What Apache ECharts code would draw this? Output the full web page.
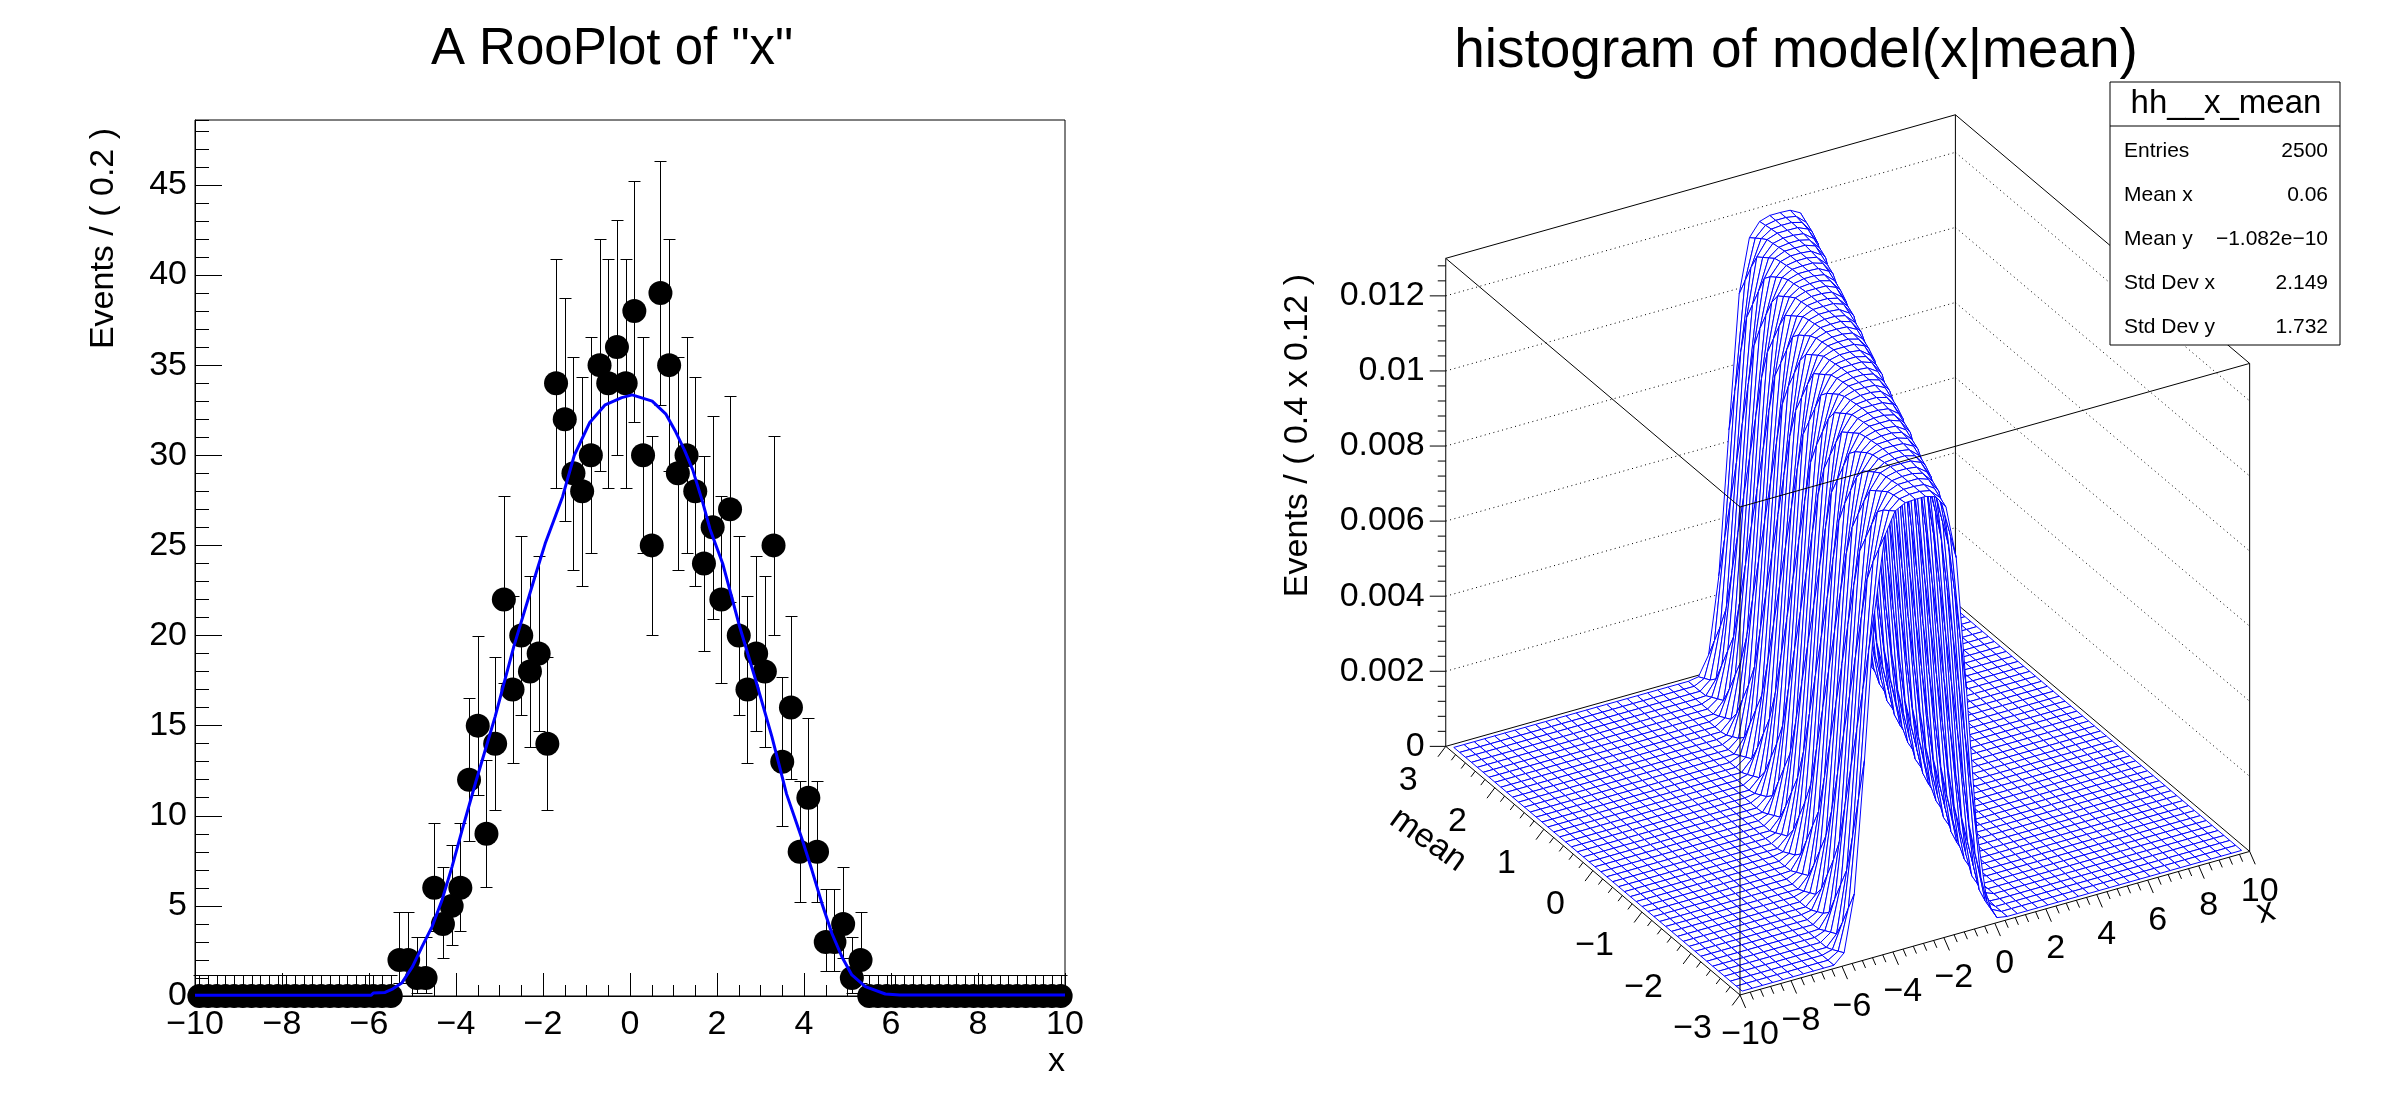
<!DOCTYPE html>
<html lang="en">
<head>
  <meta charset="UTF-8">
  <title>A RooPlot of "x" / histogram of model(x|mean)</title>
  <style>
    html, body { margin: 0; padding: 0; background: #fff; }
    #main { width: 2388px; height: 1116px; }
  </style>
</head>
<body>
  <div id="main"></div>
  <script src="https://cdn.jsdelivr.net/npm/echarts@6.0.0/dist/echarts.min.js"></script>
  <script>
    const FONT = '"Liberation Sans", Arial, Helvetica, sans-serif';

    // ---------- left pad: binned toy data, 100 bins of 0.2 on [-10, 10] ----------
    const X_MIN = -10, X_MAX = 10, BIN_WIDTH = 0.2;
    const eventCounts = [
      0, 0, 0, 0, 0, 0, 0, 0, 0, 0, 0, 0, 0, 0, 0, 0, 0, 0, 0, 0, 0, 0, 0,
      2, 2, 1, 1, 6, 4, 5, 6, 12, 15, 9, 14, 22, 17, 20, 18, 19, 14,
      34, 32, 29, 28, 30, 35, 34, 36, 34, 38, 30, 25, 39, 35, 29, 30, 28, 24, 26, 22,
      27, 20, 17, 19, 18, 25, 13, 16, 8, 11, 8, 3, 3, 4, 1, 2,
      0, 0, 0, 0, 0, 0, 0, 0, 0, 0, 0, 0, 0, 0, 0, 0, 0, 0, 0, 0, 0, 0, 0
    ];
    // fitted projection of the model
    const curveX = [-10, -5.95, -5.9, -5.63, -5.45, -5.24, -5.0, -4.78, -4.55, -4.32,
      -4.09, -3.86, -3.66, -3.53, -3.1, -2.67, -2.18, -1.95, -1.75, -1.55,
      -1.28, -0.93, -0.57, -0.19, 0.05, 0.51, 0.82, 1.05, 1.25, 1.44,
      1.67, 1.84, 2.13, 2.52, 2.88, 3.26, 3.6, 3.96, 4.18, 4.41,
      4.64, 4.87, 5.1, 5.41, 5.87, 6.2, 10];
    const curveY = [0.04, 0.04, 0.17, 0.2, 0.4, 0.74, 1.63, 2.74, 3.85, 5.33,
      7.18, 9.2, 10.9, 12.0, 15.5, 19.4, 23.3, 25.1, 26.4, 27.7,
      30.0, 31.8, 32.8, 33.2, 33.35, 33.0, 32.3, 31.3, 30.3, 29.2,
      27.4, 25.9, 24.0, 20.5, 17.6, 14.4, 11.2, 8.67, 7.0, 5.15,
      3.48, 2.18, 1.17, 0.52, 0.11, 0.05, 0.05];
    const Y_MAX = 48.6;

    // ---------- right pad: model(x|mean) surface ----------
    const X3D_MIN = -10, X3D_MAX = 10, X3D_BINS = 50;
    const MEAN_MIN = -3, MEAN_MAX = 3, MEAN_BINS = 50;
    const Z3D_MAX = 0.013;
    // ridge height versus (x - mean)
    const ridgeOffset = [-3.2, -2.8, -2.4, -2.0, -1.6, -1.2, -0.8, -0.4, 0, 0.4, 0.8, 1.2, 1.6, 2.0, 2.4, 2.8, 3.2];
    const ridgeHeight = [0, 0.0003, 0.0020, 0.0058, 0.0097, 0.0113, 0.0117, 0.0118, 0.0118,
      0.0118, 0.0117, 0.0113, 0.0097, 0.0058, 0.0020, 0.0003, 0];
    const xTicks3d = [-10, -8, -6, -4, -2, 0, 2, 4, 6, 8, 10];
    const meanTicks3d = [-3, -2, -1, 0, 1, 2, 3];
    const zTicks3d = [0, 0.002, 0.004, 0.006, 0.008, 0.01, 0.012];
    const statsLabels = ['Entries', 'Mean x', 'Mean y', 'Std Dev x', 'Std Dev y'];
    const statsValues = ['2500', '0.06', '\u22121.082e\u221210', '2.149', '1.732'];

    const fmtTick = v => (v < 0 ? '\u2212' + Math.abs(v) : String(v));
    const crisp = v => Math.round(v) + 0.5;

    function textEl(text, x, y, size, align, vAlign, rotation) {
      return {
        type: 'text', x, y, rotation: rotation || 0, z: 100,
        style: {
          text, fill: '#000', font: size + 'px ' + FONT, fontSize: size, fontFamily: FONT,
          align, verticalAlign: vAlign, textAlign: align, textVerticalAlign: vAlign
        }
      };
    }

    // Poisson 68% interval as RooFit draws it (one sided for empty bins)
    function poissonCdf(n, mu) {
      let term = Math.exp(-mu), sum = term;
      for (let k = 1; k <= n; k++) { term *= mu / k; sum += term; }
      return sum;
    }
    function solveMu(f, target) {
      let a = 0, b = 200;
      for (let it = 0; it < 80; it++) {
        const c = (a + b) / 2;
        if (f(c) > target) a = c; else b = c;
      }
      return (a + b) / 2;
    }
    function poissonInterval(n) {
      if (n === 0) return [0, solveMu(mu => poissonCdf(0, mu), 1 - 0.6827)];
      const alpha = (1 - 0.6827) / 2;
      return [solveMu(mu => poissonCdf(n - 1, mu), 1 - alpha), solveMu(mu => poissonCdf(n, mu), alpha)];
    }

    const pointData = eventCounts.map((n, i) => [X_MIN + (i + 0.5) * BIN_WIDTH, n]);
    const errorData = pointData.map(([x, n]) => {
      const iv = poissonInterval(n);
      return [x, n, iv[0], iv[1]];
    });
    const curveData = curveX.map((x, i) => [x, curveY[i]]);

    // ---------- 3D view (ROOT default-like angles) ----------
    const VIEW_PHI = 30 * Math.PI / 180;
    const VIEW_THETA = 29.2 * Math.PI / 180;
    const BOX_HEIGHT = 0.95;
    const CUBE_PX = 588.5;
    const FRONT_CORNER = [1740, 995];
    const U_MIN = -Math.sin(VIEW_PHI), U_MAX = Math.cos(VIEW_PHI);
    const V_MAX = (Math.sin(VIEW_PHI) + Math.cos(VIEW_PHI)) * Math.sin(VIEW_THETA) + BOX_HEIGHT * Math.cos(VIEW_THETA);

    function project(x, m, z) {
      const xn = (x - X3D_MIN) / (X3D_MAX - X3D_MIN);
      const mn = (m - MEAN_MIN) / (MEAN_MAX - MEAN_MIN);
      const zn = z / Z3D_MAX;
      return [
        xn * Math.cos(VIEW_PHI) - mn * Math.sin(VIEW_PHI),
        (xn * Math.sin(VIEW_PHI) + mn * Math.cos(VIEW_PHI)) * Math.sin(VIEW_THETA) + zn * BOX_HEIGHT * Math.cos(VIEW_THETA)
      ];
    }

    function ridgeAt(d) {
      if (d <= ridgeOffset[0] || d >= ridgeOffset[ridgeOffset.length - 1]) return 0;
      for (let k = 1; k < ridgeOffset.length; k++) {
        if (d <= ridgeOffset[k]) {
          const t = (d - ridgeOffset[k - 1]) / (ridgeOffset[k] - ridgeOffset[k - 1]);
          return ridgeHeight[k - 1] + t * (ridgeHeight[k] - ridgeHeight[k - 1]);
        }
      }
      return 0;
    }

    const surfX = [], surfMean = [];
    for (let i = 0; i < X3D_BINS; i++) surfX.push(X3D_MIN + (i + 0.5) * (X3D_MAX - X3D_MIN) / X3D_BINS);
    for (let j = 0; j < MEAN_BINS; j++) surfMean.push(MEAN_MIN + (j + 0.5) * (MEAN_MAX - MEAN_MIN) / MEAN_BINS);
    const surfZ = surfX.map(x => surfMean.map(m => ridgeAt(x - m)));

    // painter's order: farthest cells first
    const cells = [];
    for (let i = 0; i < X3D_BINS - 1; i++) {
      for (let j = 0; j < MEAN_BINS - 1; j++) cells.push([i, j]);
    }
    const depth = c => Math.sin(VIEW_PHI) * (c[0] + 0.5) / X3D_BINS + Math.cos(VIEW_PHI) * (c[1] + 0.5) / MEAN_BINS;
    cells.sort((a, b) => depth(b) - depth(a));

    const ZT = Z3D_MAX;
    const backSegments = [
      [X3D_MIN, MEAN_MAX, 0, X3D_MIN, MEAN_MAX, ZT],
      [X3D_MAX, MEAN_MAX, 0, X3D_MAX, MEAN_MAX, ZT],
      [X3D_MIN, MEAN_MAX, 0, X3D_MAX, MEAN_MAX, 0],
      [X3D_MAX, MEAN_MAX, 0, X3D_MAX, MEAN_MIN, 0]
    ];
    const frontSegments = [
      [X3D_MIN, MEAN_MIN, 0, X3D_MIN, MEAN_MIN, ZT],
      [X3D_MAX, MEAN_MIN, 0, X3D_MAX, MEAN_MIN, ZT],
      [X3D_MIN, MEAN_MIN, ZT, X3D_MAX, MEAN_MIN, ZT],
      [X3D_MAX, MEAN_MIN, ZT, X3D_MAX, MEAN_MAX, ZT],
      [X3D_MAX, MEAN_MAX, ZT, X3D_MIN, MEAN_MAX, ZT],
      [X3D_MIN, MEAN_MAX, ZT, X3D_MIN, MEAN_MIN, ZT],
      [X3D_MIN, MEAN_MIN, 0, X3D_MAX, MEAN_MIN, 0],
      [X3D_MIN, MEAN_MIN, 0, X3D_MIN, MEAN_MAX, 0]
    ];

    function segLine(api, s, dashed) {
      const p1 = api.coord(project(s[0], s[1], s[2]));
      const p2 = api.coord(project(s[3], s[4], s[5]));
      return {
        type: 'line', shape: { x1: p1[0], y1: p1[1], x2: p2[0], y2: p2[1] },
        style: { stroke: '#000', lineWidth: 1, lineDash: dashed ? [1, 3.5] : null }
      };
    }

    function renderBack(params, api) {
      const children = backSegments.map(s => segLine(api, s, false));
      zTicks3d.filter(z => z > 0).forEach(z => {
        children.push(segLine(api, [X3D_MIN, MEAN_MAX, z, X3D_MAX, MEAN_MAX, z], true));
        children.push(segLine(api, [X3D_MAX, MEAN_MAX, z, X3D_MAX, MEAN_MIN, z], true));
      });
      return { type: 'group', children };
    }

    function renderSurface(params, api) {
      const i = api.value(0), j = api.value(1);
      const pts = [[i, j], [i + 1, j], [i + 1, j + 1], [i, j + 1]]
        .map(([a, b]) => api.coord(project(surfX[a], surfMean[b], surfZ[a][b])));
      return {
        type: 'polygon', z2: params.dataIndex,
        shape: { points: pts },
        style: { fill: '#fff', stroke: '#0000ff', lineWidth: 1 }
      };
    }

    function renderFront(params, api) {
      const children = frontSegments.map(s => segLine(api, s, false));
      const tick = (p, dir, len) => children.push({
        type: 'line', shape: { x1: p[0], y1: p[1], x2: p[0] + dir[0] * len, y2: p[1] + dir[1] * len },
        style: { stroke: '#000', lineWidth: 1 }
      });
      const label = (text, x, y, align) => {
        const t = textEl(text, x, y, 34, align, 'middle');
        delete t.z;
        children.push(t);
      };
      // z axis on the back-left edge
      for (let k = 0; k * 0.0004 <= ZT + 1e-9; k++) {
        tick(api.coord(project(X3D_MIN, MEAN_MAX, k * 0.0004)), [-1, 0], k % 5 === 0 ? 16 : 8);
      }
      zTicks3d.forEach(z => {
        const p = api.coord(project(X3D_MIN, MEAN_MAX, z));
        label(fmtTick(z), p[0] - 21, p[1], 'right');
      });
      // mean axis on the front-left floor edge
      for (let k = 0; k <= 30; k++) {
        tick(api.coord(project(X3D_MIN, MEAN_MIN + k * 0.2, 0)), [-0.6, 0.8], k % 5 === 0 ? 13 : 7);
      }
      meanTicks3d.forEach(m => {
        const p = api.coord(project(X3D_MIN, m, 0));
        label(fmtTick(m), p[0] - 28, p[1] + 34, 'right');
      });
      // x axis on the front-right floor edge
      for (let k = 0; k <= 50; k++) {
        tick(api.coord(project(X3D_MIN + k * 0.4, MEAN_MIN, 0)), [0.4, 0.92], k % 5 === 0 ? 14 : 8);
      }
      xTicks3d.forEach(x => {
        const p = api.coord(project(x, MEAN_MIN, 0));
        label(fmtTick(x), p[0] + 10, p[1] + 40, 'center');
      });
      return { type: 'group', children };
    }

    const statsGraphic = [
      { type: 'rect', z: 100, shape: { x: 2110, y: 82, width: 230, height: 263 }, style: { fill: '#fff', stroke: '#000', lineWidth: 1 } },
      { type: 'line', z: 101, shape: { x1: 2110, y1: 126, x2: 2340, y2: 126 }, style: { stroke: '#000', lineWidth: 1 } },
      textEl('hh__x_mean', 2226, 104, 33, 'center', 'middle')
    ];
    statsLabels.forEach((lab, k) => {
      statsGraphic.push(textEl(lab, 2124, 151 + k * 44, 21, 'left', 'middle'));
      statsGraphic.push(textEl(statsValues[k], 2328, 151 + k * 44, 21, 'right', 'middle'));
    });

    const chart = echarts.init(document.getElementById('main'));
    const option = {
      backgroundColor: '#fff',
      animation: false,
      grid: [{
        left: 195, top: 120, width: 870, height: 876,
        show: true, borderColor: '#000', borderWidth: 1, backgroundColor: 'transparent'
      }, {
        left: FRONT_CORNER[0] + U_MIN * CUBE_PX,
        top: FRONT_CORNER[1] - V_MAX * CUBE_PX,
        width: (U_MAX - U_MIN) * CUBE_PX,
        height: V_MAX * CUBE_PX,
        show: false
      }],
      xAxis: [{
        type: 'value', gridIndex: 0, position: 'bottom', min: X_MIN, max: X_MAX, interval: 2,
        axisLine: { show: true, onZero: false, lineStyle: { color: '#000', width: 1 } },
        axisTick: { show: true, inside: true, length: 23, lineStyle: { color: '#000' } },
        minorTick: { show: true, splitNumber: 4, length: 11, lineStyle: { color: '#000' } },
        splitLine: { show: false },
        axisLabel: { color: '#000', fontSize: 34, fontFamily: FONT, margin: 12, formatter: fmtTick }
      }, {
        type: 'value', gridIndex: 1, min: U_MIN, max: U_MAX, show: false
      }],
      yAxis: [{
        type: 'value', gridIndex: 0, position: 'left', min: 0, max: Y_MAX, interval: 5,
        axisLine: { show: true, onZero: false, lineStyle: { color: '#000', width: 1 } },
        axisTick: { show: true, inside: true, length: 27, lineStyle: { color: '#000' } },
        splitLine: { show: false },
        axisLabel: { color: '#000', fontSize: 34, fontFamily: FONT, margin: 8, showMaxLabel: false }
      }, {
        type: 'value', gridIndex: 0, position: 'left', offset: 0, min: 0, max: Y_MAX, interval: 1,
        axisLine: { show: false, onZero: false },
        axisTick: { show: true, inside: true, length: 14, lineStyle: { color: '#000' } },
        splitLine: { show: false },
        axisLabel: { show: false }
      }, {
        type: 'value', gridIndex: 1, min: 0, max: V_MAX, show: false
      }],
      graphic: [
        textEl('A RooPlot of "x"', 612, 50, 51, 'center', 'middle'),
        textEl('Events / ( 0.2 )', 104, 128, 34, 'right', 'middle', Math.PI / 2),
        textEl('x', 1065, 1062, 34, 'right', 'middle'),
        textEl('histogram of model(x|mean)', 1796, 52, 55, 'center', 'middle'),
        textEl('Events / ( 0.4 x 0.12 )', 1298, 274, 34, 'right', 'middle', Math.PI / 2),
        textEl('mean', 1428, 840, 34, 'center', 'middle', -0.62),
        textEl('x', 2266, 912, 34, 'center', 'middle', 0.27)
      ].concat(statsGraphic),
      series: [{
        name: 'errors', type: 'custom', xAxisIndex: 0, yAxisIndex: 0,
        silent: true, clip: false, z: 2,
        encode: { x: 0, y: 1 },
        data: errorData,
        renderItem: function (params, api) {
          const x = api.value(0);
          const lo = api.coord([x, api.value(2)]);
          const hi = api.coord([x, api.value(3)]);
          const cx = crisp(lo[0]), yLo = crisp(lo[1]), yHi = crisp(hi[1]);
          const st = { stroke: '#000', lineWidth: 1 };
          const cap = 6;
          return {
            type: 'group', children: [
              { type: 'line', shape: { x1: cx, y1: yLo, x2: cx, y2: yHi }, style: st },
              { type: 'line', shape: { x1: cx - cap, y1: yLo, x2: cx + cap, y2: yLo }, style: st },
              { type: 'line', shape: { x1: cx - cap, y1: yHi, x2: cx + cap, y2: yHi }, style: st }
            ]
          };
        }
      }, {
        name: 'data', type: 'scatter', xAxisIndex: 0, yAxisIndex: 0,
        silent: true, clip: false, z: 3,
        symbol: 'circle', symbolSize: 24,
        itemStyle: { color: '#000', opacity: 1 },
        data: pointData
      }, {
        name: 'model', type: 'line', xAxisIndex: 0, yAxisIndex: 0,
        silent: true, z: 4, showSymbol: false, smooth: false,
        lineStyle: { color: '#0000ff', width: 3 },
        data: curveData
      }, {
        name: 'box back', type: 'custom', xAxisIndex: 1, yAxisIndex: 2,
        silent: true, clip: false, z: 1,
        data: [[0, 0]],
        renderItem: renderBack
      }, {
        name: 'surface', type: 'custom', xAxisIndex: 1, yAxisIndex: 2,
        silent: true, clip: false, z: 2,
        data: cells,
        renderItem: renderSurface
      }, {
        name: 'box front', type: 'custom', xAxisIndex: 1, yAxisIndex: 2,
        silent: true, clip: false, z: 3,
        data: [[0, 0]],
        renderItem: renderFront
      }]
    };
    chart.setOption(option);
  </script>
</body>
</html>
